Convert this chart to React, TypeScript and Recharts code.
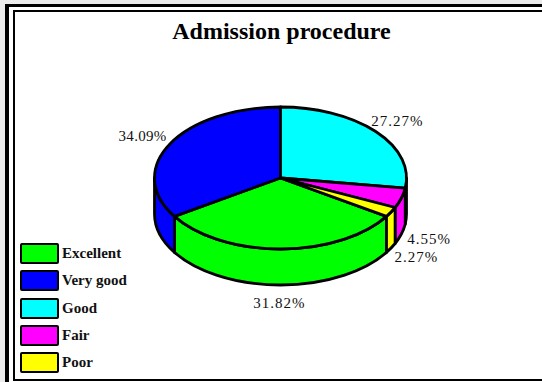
import { Legend, Pie, PieChart } from "recharts";

const categories = ["Excellent", "Very good", "Good", "Fair", "Poor"];
const responses = [14, 15, 12, 2, 1];
const colors = ["#00ff00", "#0000ff", "#00ffff", "#ff00ff", "#ffff00"];

const data = categories.map((name, i) => ({
  name,
  value: responses[i],
  fill: colors[i],
}));

const WIDTH = 542;
const HEIGHT = 382;
const CX = 280.5;
const CY = 178;
const RX = 126;
const RY = 71;
const DEPTH = 36;
const START = -32.73;
const FONT = '"Liberation Serif", serif';

const rad = (deg: number) => (deg * Math.PI) / 180;
const ex = (a: number) => CX + RX * Math.cos(rad(a));
const ey = (a: number) => CY - RY * Math.sin(rad(a));

// top face of a slice, the sector squashed into an ellipse
function TopSlice(props: any) {
  const { startAngle: s, endAngle: e, fill } = props;
  const large = Math.abs(s - e) > 180 ? 1 : 0;
  const d = `M${CX},${CY}L${ex(s)},${ey(s)}A${RX},${RY} 0 ${large} 1 ${ex(e)},${ey(e)}Z`;
  return <path d={d} fill={fill} stroke="#000" strokeWidth={2.8} strokeLinejoin="round" />;
}

// side wall, only the part of the slice that faces the viewer
function WallSlice(props: any) {
  const { startAngle: s, endAngle: e, fill } = props;
  const parts = [
    [Math.min(s, 0), Math.max(e, -180)],
    [Math.min(s, -360), Math.max(e, -540)],
  ].filter(([a, b]) => a > b);
  return (
    <g>
      {parts.map(([a, b]) => (
        <path
          key={a}
          d={`M${ex(a)},${ey(a)}A${RX},${RY} 0 0 1 ${ex(b)},${ey(b)}L${ex(b)},${ey(b) + DEPTH}A${RX},${RY} 0 0 0 ${ex(a)},${ey(a) + DEPTH}Z`}
          fill={fill}
          stroke="#000"
          strokeWidth={2.8}
          strokeLinejoin="round"
        />
      ))}
    </g>
  );
}

function PercentLabel(props: any) {
  const { midAngle, percent, name } = props;
  const x = CX + (RX + 30) * Math.cos(rad(midAngle));
  const sin = Math.sin(rad(midAngle));
  const y = CY - (RY + 17) * sin + (sin < 0 ? DEPTH : 0);
  return (
    <text
      x={x - 1}
      y={y + 0.5}
      textAnchor="middle"
      dominantBaseline="central"
      fontFamily={FONT}
      fontSize={15}
      letterSpacing={name === "Very good" ? 0.3 : 1}
      fill="#111"
    >
      {(percent * 100).toFixed(2)}%
    </text>
  );
}

function LegendList({ payload }: any) {
  // both pies report their slices, keep one row per category
  const rows = categories.map((name) => (payload ?? []).find((p: any) => p.value === name)).filter(Boolean);
  return (
    <div>
      {rows.map((item: any) => (
        <div key={item.value} style={{ display: "flex", alignItems: "center", height: 27.3 }}>
          <span
            style={{
              boxSizing: "border-box",
              width: 39,
              height: 21,
              background: item.color,
              border: "2.5px solid #000",
              borderRadius: 2,
            }}
          />
          <span
            style={{
              marginLeft: 3,
              fontFamily: FONT,
              fontWeight: 700,
              fontSize: 15,
              color: "#111",
            }}
          >
            {item.value}
          </span>
        </div>
      ))}
    </div>
  );
}

export default function App() {
  return (
    <div style={{ position: "fixed", left: 0, top: 0, width: WIDTH, height: HEIGHT, background: "#fff", overflow: "hidden" }}>
      <div style={{ position: "absolute", left: 0, top: 0, width: WIDTH, height: 4, background: "#ececec" }} />
      <div style={{ position: "absolute", left: 0, top: 0, width: 5, height: HEIGHT, background: "#ececec" }} />
      <div style={{ position: "absolute", left: 5, top: 4, width: WIDTH, height: HEIGHT, borderLeft: "4px solid #000", borderTop: "3px solid #000" }} />
      <div style={{ position: "absolute", left: 13, top: 10, width: WIDTH, height: 367, borderLeft: "2px solid #000", borderTop: "2px solid #000", borderBottom: "2px solid #000" }} />
      <PieChart width={WIDTH} height={HEIGHT} style={{ position: "absolute", left: 0, top: 0 }}>
        <text x={281.5} y={31} textAnchor="middle" dominantBaseline="central" fontFamily={FONT} fontWeight={700} fontSize={24} fill="#000">
          Admission procedure
        </text>
        <Pie
          data={data}
          dataKey="value"
          cx={CX}
          cy={CY}
          outerRadius={RX}
          startAngle={START}
          endAngle={START - 360}
          stroke="none"
          shape={WallSlice}
          isAnimationActive={false}
          legendType="rect"
        />
        <Pie
          data={data}
          dataKey="value"
          cx={CX}
          cy={CY}
          outerRadius={RX}
          startAngle={START}
          endAngle={START - 360}
          stroke="none"
          shape={TopSlice}
          label={PercentLabel}
          labelLine={false}
          isAnimationActive={false}
          legendType="none"
        />
        <Legend
          layout="vertical"
          align="left"
          verticalAlign="bottom"
          content={LegendList}
          wrapperStyle={{ left: 20, bottom: 5.6, width: 130 }}
        />
      </PieChart>
    </div>
  );
}
